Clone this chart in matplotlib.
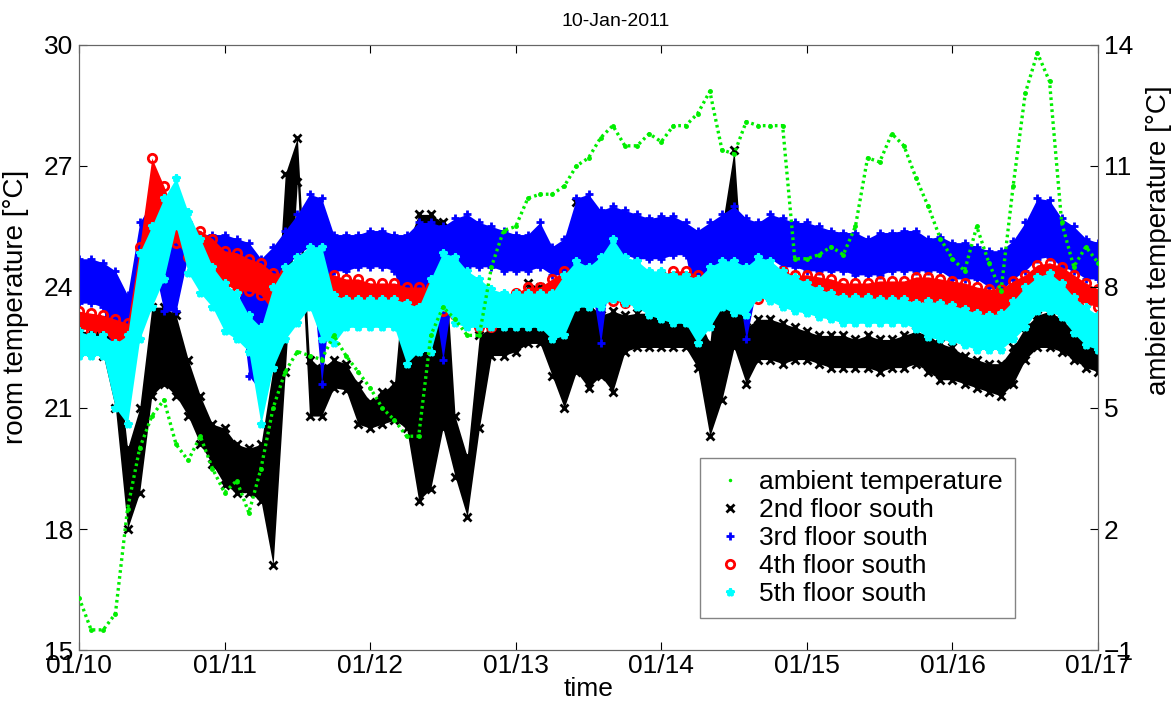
import numpy as np
import matplotlib
matplotlib.use("Agg")
import matplotlib.pyplot as plt
from matplotlib.lines import Line2D

plt.rcParams['font.family'] = ['Liberation Sans', 'DejaVu Sans']

# time axis in hours after 10-Jan-2011 00:00, one reading every 2 h
hours = np.arange(0, 169, 2)
day_ticks = [0, 24, 48, 72, 96, 120, 144, 168]
day_labels = ['01/10', '01/11', '01/12', '01/13', '01/14', '01/15', '01/16', '01/17']

# ambient temperature (right axis), degC
ambient = [0.3, -0.5, -0.5, -0.1, 2.5, 4.0, 4.8, 5.2, 4.1, 3.7, 4.3, 3.5, 2.9,
           3.2, 2.4, 3.5, 5.0, 5.9, 6.4, 6.3, 6.2, 6.8, 6.3, 5.9, 5.5,
           5.0, 4.7, 4.3, 4.3, 6.8, 7.5, 7.2, 6.8, 6.8, 8.5, 9.4, 9.5,
           10.2, 10.3, 10.3, 10.5, 11.0, 11.2, 11.7, 12.0, 11.5, 11.5, 11.8, 11.6,
           12.0, 12.0, 12.3, 12.85, 11.4, 11.3, 12.1, 12.0, 12.0, 12.0, 8.7, 8.7,
           8.8, 9.0, 8.8, 9.5, 11.2, 11.1, 11.8, 11.5, 10.7, 10.0, 9.2, 8.7,
           8.4, 9.5, 8.6, 7.9, 10.5, 12.8, 13.8, 13.1, 9.6, 8.5, 9.0, 8.6]

# room temperatures: lower / upper edge of the scatter band, degC
floor2_lo = [22.4, 22.4, 22.3, 21.0, 18.0, 18.9, 21.3, 21.6, 21.3, 20.8, 20.1, 19.6, 19.1,
             18.9, 18.9, 18.7, 17.1, 21.9, 26.6, 20.8, 20.8, 21.5, 21.45, 20.6, 20.5,
             20.6, 20.7, 20.5, 18.7, 19.0, 20.5, 19.3, 18.3, 20.5, 22.3, 22.3, 22.4,
             22.6, 22.6, 21.8, 21.0, 21.9, 21.5, 21.8, 21.4, 22.4, 22.5, 22.5, 22.5,
             22.5, 22.5, 22.0, 20.3, 21.2, 22.5, 21.6, 22.2, 22.2, 22.1, 22.2, 22.2,
             22.1, 22.0, 22.0, 22.0, 22.0, 21.9, 22.0, 22.0, 22.1, 21.9, 21.7, 21.7,
             21.6, 21.5, 21.4, 21.3, 21.6, 22.2, 22.5, 22.5, 22.4, 22.2, 22.0, 21.9]
floor2_hi = [22.9, 22.9, 23.2, 22.8, 20.0, 21.0, 23.5, 23.5, 23.3, 22.2, 21.3, 20.6, 20.5,
             20.1, 20.0, 20.1, 22.0, 26.8, 27.7, 22.2, 22.0, 22.2, 22.1, 21.6, 21.15,
             21.4, 21.6, 25.0, 25.8, 25.8, 25.6, 20.8, 19.8, 22.8, 23.0, 23.0, 23.3,
             24.1, 24.0, 23.4, 24.0, 26.1, 23.6, 23.3, 23.4, 23.3, 23.35, 23.35, 23.35,
             23.35, 23.35, 23.3, 22.6, 25.5, 27.4, 23.0, 23.2, 23.2, 23.1, 23.0, 22.9,
             22.8, 22.8, 22.8, 22.7, 22.8, 22.7, 22.7, 22.8, 22.9, 22.8, 22.6, 22.5,
             22.3, 22.2, 22.1, 22.1, 22.5, 23.0, 23.3, 23.4, 23.2, 22.9, 22.7, 22.5]

floor3_lo = [23.6, 23.6, 23.5, 21.9, 23.1, 23.5, 24.8, 23.4, 23.4, 24.8, 24.6, 24.4, 24.3,
             24.3, 21.8, 21.4, 23.9, 24.5, 24.8, 25.0, 21.6, 24.4, 24.4, 24.5, 24.5,
             24.5, 24.4, 23.0, 22.5, 24.2, 22.2, 24.2, 24.5, 24.5, 24.5, 24.4, 24.4,
             24.4, 24.5, 24.3, 24.3, 24.3, 24.5, 22.6, 24.9, 24.8, 24.7, 24.7, 24.7,
             24.8, 24.8, 23.3, 24.0, 24.5, 24.5, 22.7, 24.2, 24.7, 24.5, 24.5, 24.4,
             24.4, 24.4, 24.4, 24.3, 24.3, 24.3, 24.4, 24.4, 24.4, 24.4, 24.4, 24.2,
             24.2, 24.2, 24.0, 23.9, 24.2, 24.4, 24.7, 24.75, 24.5, 24.4, 24.2, 24.2]
floor3_hi = [24.7, 24.7, 24.6, 24.4, 23.8, 25.6, 26.1, 25.7, 25.5, 25.6, 25.3, 25.3, 25.3,
             25.2, 25.1, 24.7, 25.0, 25.4, 25.8, 26.3, 26.2, 25.3, 25.3, 25.3, 25.4,
             25.4, 25.3, 25.3, 25.6, 25.6, 25.5, 25.7, 25.8, 25.6, 25.5, 25.4, 25.3,
             25.3, 25.6, 25.0, 25.2, 26.2, 26.3, 25.9, 26.0, 25.9, 25.8, 25.7, 25.75,
             25.75, 25.6, 25.4, 25.6, 25.8, 26.0, 25.7, 25.6, 25.8, 25.7, 25.6, 25.6,
             25.5, 25.4, 25.35, 25.35, 25.2, 25.35, 25.35, 25.4, 25.4, 25.2, 25.25, 25.1,
             25.1, 25.0, 24.9, 24.9, 25.15, 25.6, 26.2, 26.15, 25.7, 25.5, 25.2, 25.1]

floor4_lo = [23.0, 22.9, 22.9, 22.6, 22.4, 23.2, 25.2, 25.0, 25.1, 24.75, 24.7, 24.35, 24.1,
             23.9, 23.9, 23.8, 23.4, 23.7, 23.7, 23.7, 23.4, 23.7, 23.65, 23.65, 23.65,
             23.65, 23.65, 23.1, 23.2, 23.5, 23.4, 23.3, 23.2, 23.0, 23.0, 23.4, 23.5,
             23.65, 23.65, 23.3, 23.65, 23.7, 23.7, 23.8, 23.65, 23.6, 23.6, 23.8, 23.8,
             23.9, 23.9, 23.35, 23.65, 23.65, 23.6, 23.65, 23.7, 23.75, 23.75, 23.7, 23.7,
             23.7, 23.65, 23.65, 23.65, 23.65, 23.65, 23.65, 23.65, 23.65, 23.6, 23.5, 23.45,
             23.35, 23.2, 23.1, 23.1, 23.25, 23.6, 23.8, 23.85, 23.8, 23.65, 23.6, 23.5]
floor4_hi = [23.4, 23.35, 23.3, 23.2, 23.1, 25.0, 27.2, 26.5, 25.7, 25.5, 25.4, 25.2, 24.9,
             24.85, 24.7, 24.6, 24.35, 24.35, 24.25, 24.2, 24.3, 24.3, 24.2, 24.2, 24.1,
             24.1, 24.1, 24.0, 24.0, 24.0, 23.9, 23.9, 23.8, 23.5, 23.4, 23.65, 23.85,
             24.0, 24.0, 24.2, 24.4, 24.35, 24.4, 24.3, 24.3, 24.0, 24.0, 24.3, 24.3,
             24.4, 24.4, 24.3, 24.2, 24.0, 24.0, 24.0, 24.35, 24.45, 24.4, 24.3, 24.3,
             24.25, 24.2, 24.1, 24.1, 24.1, 24.15, 24.15, 24.15, 24.25, 24.25, 24.2, 24.15,
             24.1, 24.0, 23.95, 23.95, 24.15, 24.3, 24.55, 24.6, 24.5, 24.3, 24.1, 23.95]

floor5_lo = [22.3, 22.3, 22.3, 21.0, 20.6, 22.7, 23.5, 24.2, 25.5, 24.35, 23.85, 23.5, 22.9,
             22.7, 22.4, 20.6, 22.0, 22.7, 23.1, 23.5, 22.7, 22.6, 23.0, 23.0, 23.0,
             23.0, 23.0, 22.1, 22.4, 22.4, 23.5, 23.1, 23.0, 23.0, 23.0, 23.0, 23.0,
             23.0, 23.0, 22.7, 22.8, 23.5, 23.5, 23.5, 23.7, 23.6, 23.5, 23.3, 23.2,
             23.1, 23.1, 22.6, 23.0, 23.5, 23.35, 23.3, 23.75, 23.65, 23.5, 23.4, 23.35,
             23.25, 23.2, 23.1, 23.1, 23.1, 23.1, 23.1, 23.1, 22.95, 22.75, 22.7, 22.65,
             22.55, 22.45, 22.45, 22.45, 22.7, 23.0, 23.4, 23.4, 23.25, 22.85, 22.55, 22.45]
floor5_hi = [22.9, 22.8, 22.8, 22.6, 22.8, 24.85, 25.5, 26.2, 26.7, 25.85, 25.2, 24.5, 24.1,
             23.85, 23.3, 23.0, 24.0, 24.5, 24.75, 25.0, 25.0, 23.8, 23.7, 23.7, 23.7,
             23.7, 23.7, 23.6, 23.5, 24.2, 24.85, 24.75, 24.4, 24.2, 23.95, 23.85, 23.85,
             23.85, 23.85, 23.85, 24.3, 24.65, 24.5, 24.75, 25.2, 24.75, 24.65, 24.4, 24.4,
             24.3, 24.3, 24.2, 24.5, 24.65, 24.65, 24.5, 24.75, 24.65, 24.4, 24.25, 24.1,
             23.95, 23.85, 23.75, 23.75, 23.75, 23.7, 23.7, 23.7, 23.6, 23.65, 23.6, 23.55,
             23.45, 23.35, 23.3, 23.35, 23.65, 24.0, 24.25, 24.35, 24.1, 23.75, 23.5, 23.3]

series = [
    ('2nd floor south', floor2_lo, floor2_hi, 'black', 'x'),
    ('3rd floor south', floor3_lo, floor3_hi, 'blue', '+'),
    ('4th floor south', floor4_lo, floor4_hi, 'red', 'o'),
    ('5th floor south', floor5_lo, floor5_hi, 'cyan', '*'),
]
for s in series:
    assert len(s[1]) == len(hours) and len(s[2]) == len(hours)
assert len(ambient) == len(hours)

green = '#00ee00'

fig = plt.figure(figsize=(11.74, 7.06), dpi=100)
ax1 = fig.add_axes([0.0673, 0.0793, 0.868, 0.857])

# each floor: filled band between lower and upper readings, markers on the edges
for i, (name, lo, hi, col, mk) in enumerate(series):
    z = 2 + i
    ax1.fill_between(hours, lo, hi, color=col, lw=0, zorder=z)
    mfc = 'none' if mk == 'o' else col
    for edge in (lo, hi):
        ax1.plot(hours, edge, ls='none', marker=mk, ms=6, mew=2,
                 color=col, mfc=mfc, zorder=z)

ax1.set_xlim(0, 168)
ax1.set_ylim(15, 30)
ax1.set_yticks([15, 18, 21, 24, 27, 30])
ax1.set_xticks(day_ticks)
ax1.set_xticklabels(day_labels)
ax1.set_ylabel('room temperature [°C]', fontsize=20)
ax1.yaxis.set_label_coords(-0.049, 0.567)
ax1.set_xlabel('time', fontsize=19, labelpad=-1)
ax1.set_title('10-Jan-2011', fontsize=14, pad=14, x=0.527)

ax2 = ax1.twinx()
ax2.plot(hours, ambient, color=green, lw=2.4, ls=(0, (0.8, 1.0)),
         marker='.', ms=5, zorder=10)
ax2.set_ylim(-1, 14)
ax2.set_yticks([-1, 2, 5, 8, 11, 14])
ax2.set_ylabel('ambient temperature [°C]', fontsize=20)
ax2.yaxis.set_label_coords(1.047, 0.678)

for ax in (ax1, ax2):
    ax.tick_params(direction='in', length=6, labelsize=19, colors='black')
    for sp in ax.spines.values():
        sp.set_color('#666666')
ax1.tick_params(axis='x', top=True, pad=3)
ax1.tick_params(axis='y', right=False, pad=4)
ax2.tick_params(axis='y', pad=4)

handles = [Line2D([], [], ls='none', marker='.', ms=3, color=green)]
labels = ['ambient temperature']
for name, lo, hi, col, mk in series:
    mfc = 'none' if mk == 'o' else col
    handles.append(Line2D([], [], ls='none', marker=mk, ms=6, mew=2, color=col, mfc=mfc))
    labels.append(name)
leg = ax2.legend(handles, labels, loc='lower right', bbox_to_anchor=(0.9185, 0.053),
                 borderaxespad=0, fontsize=19, frameon=True, fancybox=False,
                 edgecolor='#666666', handlelength=1.4, handletextpad=0.4,
                 labelspacing=0.15, borderpad=0.45)
leg.get_frame().set_linewidth(1.0)
leg.set_zorder(20)

fig.savefig('out.png', dpi=100)
